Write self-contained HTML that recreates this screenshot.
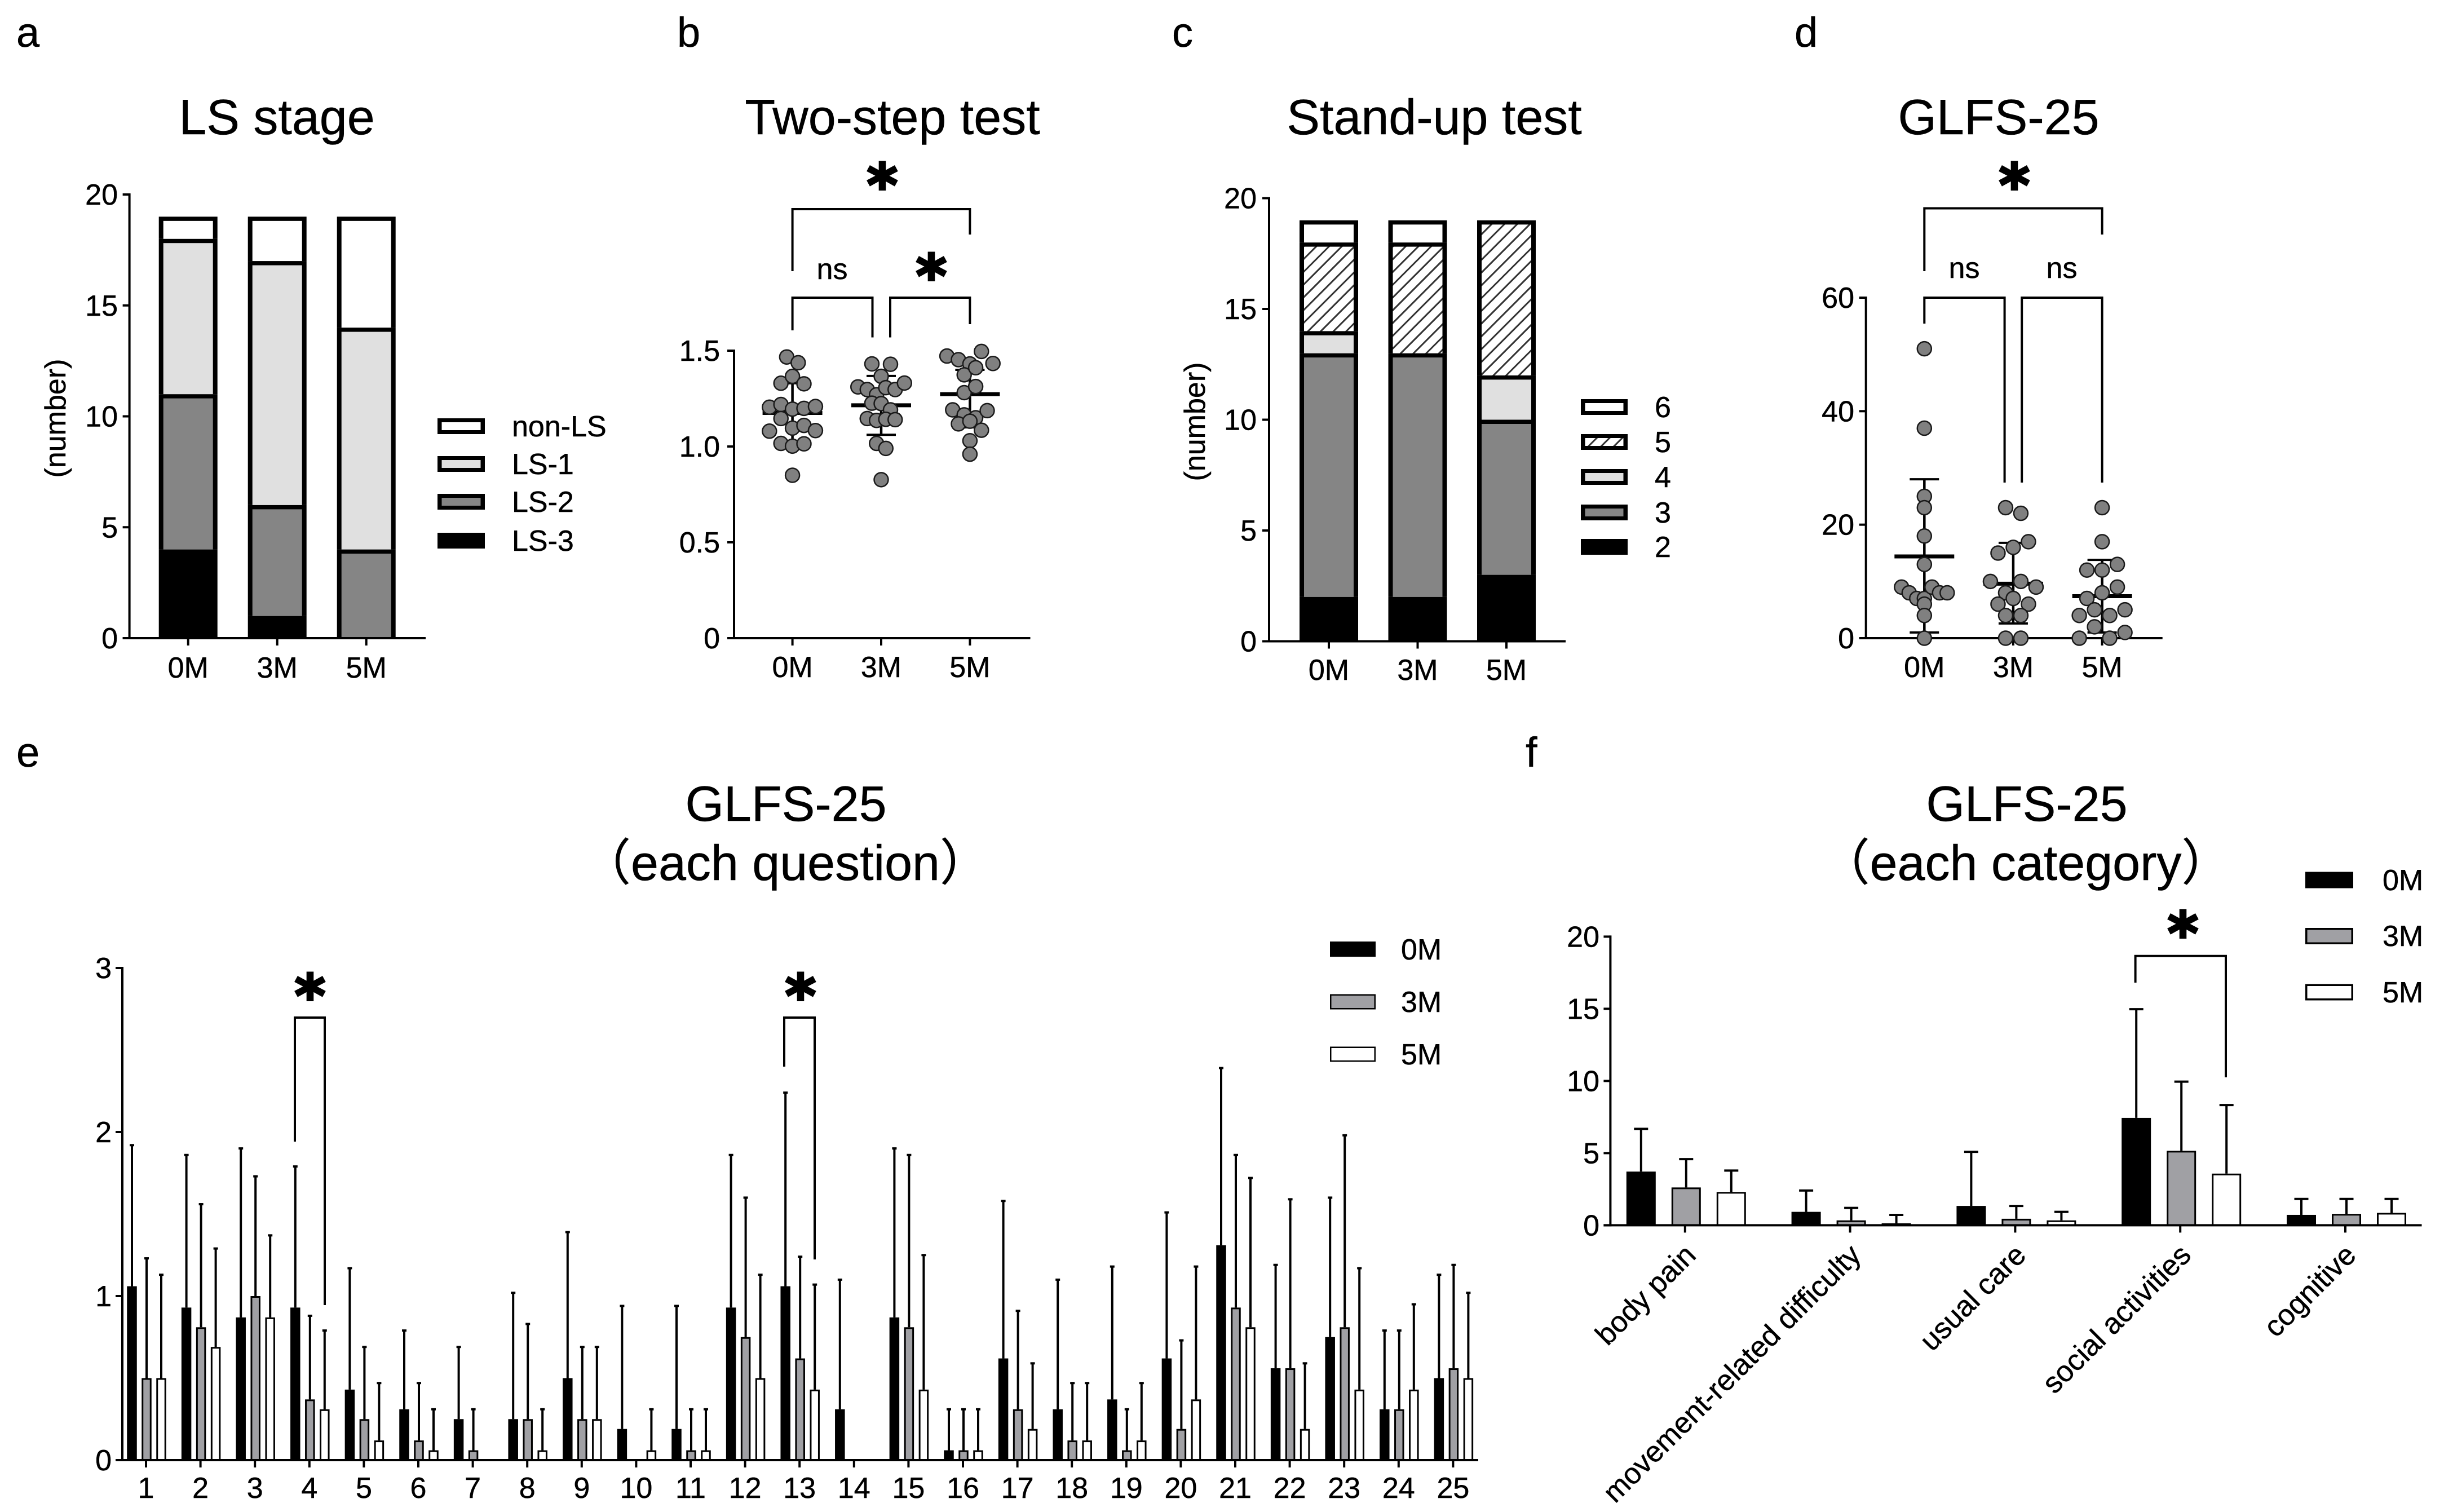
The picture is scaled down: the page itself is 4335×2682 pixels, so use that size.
<!DOCTYPE html>
<html lang="en">
<head>
<meta charset="utf-8">
<title>Locomotive syndrome outcome charts</title>
<style>
html,body{margin:0;padding:0;background:#fff}
svg{display:block}
text{font-family:"Liberation Sans","Noto Sans CJK JP",sans-serif;fill:#000;stroke:#000;stroke-width:.5px}
.star{font-family:"DejaVu Sans",sans-serif;font-weight:700;font-size:104px;text-anchor:middle;stroke-width:4px}
.title{font-size:88px;text-anchor:middle}
.letter{font-size:74px}
.lab{font-size:52px}
.mid{text-anchor:middle}
</style>
</head>
<body>
<svg id="figure" xmlns="http://www.w3.org/2000/svg" width="4335" height="2682" viewBox="0 0 4335 2682">
<defs>
<pattern id="hatch" patternUnits="userSpaceOnUse" width="16" height="16" patternTransform="rotate(-45)">
<rect width="16" height="16" fill="#fff"/>
<line x1="0" y1="8" x2="16" y2="8" stroke="#333" stroke-width="3"/>
</pattern>
</defs>
<rect width="4335" height="2682" fill="#fff"/>

<text class="letter" x="29" y="83">a</text>
<text class="letter" x="1201" y="83">b</text>
<text class="letter" x="2079" y="83">c</text>
<text class="letter" x="3183" y="83">d</text>
<text class="letter" x="29" y="1360">e</text>
<text class="letter" x="2706" y="1360">f</text>

<text class="title" x="491" y="238">LS stage</text>
<text class="title" x="1583" y="238">Two-step test</text>
<text class="title" x="2544" y="238">Stand-up test</text>
<text class="title" x="3545" y="238">GLFS-25</text>
<text class="title" x="1394" y="1456">GLFS-25</text>
<text class="title" x="1393" y="1561">（each question）</text>
<text class="title" x="3595" y="1456">GLFS-25</text>
<text class="title" x="3593" y="1561">（each category）</text>

<text class="lab mid" transform="translate(116 742) rotate(-90)">(number)</text>
<text class="lab mid" transform="translate(2137 748) rotate(-90)">(number)</text>

<text class="lab" x="908" y="774">non-LS</text>
<text class="lab" x="908" y="841">LS-1</text>
<text class="lab" x="908" y="908">LS-2</text>
<text class="lab" x="908" y="977">LS-3</text>

<text class="lab" x="2935" y="740">6</text>
<text class="lab" x="2935" y="802">5</text>
<text class="lab" x="2935" y="864">4</text>
<text class="lab" x="2935" y="927">3</text>
<text class="lab" x="2935" y="988">2</text>

<text class="lab" x="2485" y="1702">0M</text>
<text class="lab" x="2485" y="1795">3M</text>
<text class="lab" x="2485" y="1888">5M</text>

<text class="lab" x="4226" y="1579">0M</text>
<text class="lab" x="4226" y="1678">3M</text>
<text class="lab" x="4226" y="1778">5M</text>

<text class="lab mid" x="1476" y="495">ns</text>
<text class="lab mid" x="3484" y="493">ns</text>
<text class="lab mid" x="3657" y="493">ns</text>

<text class="star" x="1565" y="365">*</text>
<text class="star" x="1652" y="526">*</text>
<text class="star" x="3573" y="365">*</text>
<text class="star" x="550" y="1803">*</text>
<text class="star" x="1420" y="1803">*</text>
<text class="star" x="3872" y="1692">*</text>

<g id="marks"></g>
</svg>

<script>
/* ---------- panel a: LS stage (counts, bottom to top) ---------- */
const timeLabels = ["0M", "3M", "5M"];
const stackTickValues = [0, 5, 10, 15, 20];
const stackTickLabels = ["0", "5", "10", "15", "20"];
const lsStage3 = [4, 1, 0];
const lsStage2 = [7, 5, 4];
const lsStage1 = [7, 11, 10];
const lsStageNon = [1, 2, 5];

/* ---------- panel c: Stand-up test (counts, bottom to top) ---------- */
const standScore2 = [2, 2, 3];
const standScore3 = [11, 11, 7];
const standScore4 = [1, 0, 2];
const standScore5 = [4, 5, 7];
const standScore6 = [1, 1, 0];

/* ---------- panel b: Two-step test ---------- */
const twoStepTickValues = [0, 0.5, 1.0, 1.5];
const twoStepTickLabels = ["0", "0.5", "1.0", "1.5"];
const twoStep0M = [1.467,1.437,1.33,1.366,1.327,1.205,1.219,1.195,1.199,1.209,1.08,1.146,1.096,1.11,1.083,1.016,1.002,1.014,0.85];
const twoStep3M = [1.431,1.366,1.429,1.311,1.297,1.27,1.307,1.297,1.331,1.226,1.224,1.191,1.146,1.136,1.142,1.14,1.016,0.99,0.827];
const twoStep5M = [1.472,1.453,1.431,1.496,1.433,1.374,1.411,1.281,1.313,1.191,1.165,1.15,1.187,1.118,1.132,1.085,1.03,0.96];
const twoStepMean = [1.175, 1.215, 1.273];
const twoStepUpper = [1.33, 1.368, 1.40];
const twoStepLower = [1.02, 1.061, 1.10];

/* ---------- panel d: GLFS-25 total ---------- */
const glfsTickValues = [0, 20, 40, 60];
const glfsTickLabels = ["0", "20", "40", "60"];
const glfs0M = [51,37,25,23,18,13,9,8,7,7,9,8,8,6,4,0];
const glfs3M = [23,22,15,16,17,10,8,10,9,6,7,6,4,4,0,0];
const glfs5M = [23,17,12,12,13,7,8,9,4,5,4,5,0,2,0,1];
const glfsMean = [14.4, 9.6, 7.4];
const glfsUpper = [28, 16.8, 13.8];
const glfsLower = [1, 2.6, 1];

/* ---------- panel e: GLFS-25 each question ---------- */
const questionLabels = ["1","2","3","4","5","6","7","8","9","10","11","12","13","14","15","16","17","18","19","20","21","22","23","24","25"];
const questionTickValues = [0, 1, 2, 3];
const questionTickLabels = ["0", "1", "2", "3"];
const question0M = [1.06,0.93,0.87,0.93,0.43,0.31,0.25,0.25,0.5,0.19,0.19,0.93,1.06,0.31,0.87,0.06,0.62,0.31,0.37,0.62,1.31,0.56,0.75,0.31,0.5];
const question3M = [0.5,0.81,1.0,0.37,0.25,0.12,0.06,0.25,0.25,0,0.06,0.75,0.62,0,0.81,0.06,0.31,0.12,0.06,0.19,0.93,0.56,0.81,0.31,0.56];
const question5M = [0.5,0.69,0.87,0.31,0.12,0.06,0,0.06,0.25,0.06,0.06,0.5,0.43,0,0.43,0.06,0.19,0.12,0.12,0.37,0.81,0.19,0.43,0.43,0.5];
const question0MErrTop = [1.92,1.86,1.90,1.79,1.17,0.79,0.69,1.02,1.39,0.94,0.94,1.86,2.24,1.10,1.90,0.31,1.58,1.10,1.18,1.51,2.39,1.19,1.60,0.79,1.13];
const question3MErrTop = [1.23,1.56,1.73,0.88,0.69,0.47,0.31,0.83,0.69,0,0.31,1.60,1.24,0,1.86,0.31,0.91,0.47,0.31,0.73,1.86,1.59,1.98,0.79,1.19];
const question5MErrTop = [1.13,1.29,1.37,0.79,0.47,0.31,0,0.31,0.69,0.31,0.31,1.13,1.07,0,1.25,0.31,0.59,0.47,0.47,1.18,1.72,0.59,1.17,0.95,1.02];

/* ---------- panel f: GLFS-25 each category ---------- */
const categoryLabels = ["body pain", "movement-related difficulty", "usual care", "social activities", "cognitive"];
const categoryTickValues = [0, 5, 10, 15, 20];
const categoryTickLabels = ["0", "5", "10", "15", "20"];
const category0M = [3.72, 0.93, 1.34, 7.44, 0.72];
const category3M = [2.62, 0.34, 0.45, 5.16, 0.79];
const category5M = [2.31, 0.14, 0.34, 3.58, 0.86];
const category0MErrTop = [6.68, 2.41, 5.09, 14.97, 1.82];
const category3MErrTop = [4.58, 1.2, 1.34, 9.95, 1.82];
const category5MErrTop = [3.79, 0.72, 0.93, 8.33, 1.82];

/* ---------- drawing ---------- */
const NS = "http://www.w3.org/2000/svg";
const root = document.getElementById("marks");

function mk(tag, attrs, name, text) {
  const el = document.createElementNS(NS, tag);
  for (const k in attrs) el.setAttribute(k, attrs[k]);
  
  
  if (text !== undefined) el.textContent = text;
  root.appendChild(el);
  return el;
}
function line(x1, y1, x2, y2, w, name) {
  return mk("line", {x1: x1, y1: y1, x2: x2, y2: y2, stroke: "#000", "stroke-width": w}, name);
}
function box(x, y, w, h, fill, name) {
  return mk("rect", {x: x, y: y, width: w, height: h, fill: fill}, name);
}
function linearY(y0, yTop, maxV) {
  return function (v) { return y0 - v * (y0 - yTop) / maxV; };
}
function bandX(first, step) {
  return function (i) { return first + step * i; };
}

function drawAxes(p, o) {
  line(o.x0, o.yTop - 2, o.x0, o.y0 + 2, 4, p + "-y-axis");
  line(o.x0 - 12, o.y0, o.xEnd, o.y0, 4, p + "-x-axis");
  o.yVals.forEach(function (v, i) {
    const y = o.y(v);
    line(o.x0 - 12, y, o.x0, y, 4, p + "-y-tick");
    mk("text", {x: o.labelRight, y: y + 18, "font-size": 52, "text-anchor": "end"}, p + "-y-tick-label", o.yLabels[i]);
  });
  o.xLabels.forEach(function (lab, i) {
    const x = o.x(i);
    line(x, o.y0, x, o.y0 + 13, 4, p + "-x-tick");
    if (o.rotated) {
      mk("text", {transform: "translate(" + (x + 22) + " " + (o.y0 + 56) + ") rotate(-45)", "font-size": 52, "text-anchor": "end"}, p + "-x-tick-label", lab);
    } else {
      mk("text", {x: x, y: o.xBase, "font-size": 52, "text-anchor": "middle"}, p + "-x-tick-label", lab);
    }
  });
}

function drawStack(p, o, series, fills) {
  const bw = 104, sx = 8, sy = 7.5;
  timeLabels.forEach(function (_, i) {
    const cx = o.x(i);
    let acc = 0;
    series.forEach(function (vals, s) {
      const v = vals[i];
      if (v <= 0) return;
      const yb = o.y(acc), yt = o.y(acc + v);
      acc += v;
      box(cx - bw / 2, yt, bw, yb - yt, "#000", p + "-bar-frame");
      if (fills[s] !== "#000") {
        box(cx - bw / 2 + sx, yt + sy, bw - 2 * sx, yb - yt - sy, fills[s], p + "-bar-segment");
      }
    });
  });
}

/* swarm: values in array order run left to right; a new row starts when a value leaves the current row's mean by more than tol */
function swarmRows(values, tol) {
  const rows = [];
  let cur = [];
  values.forEach(function (v) {
    if (cur.length) {
      const m = cur.reduce(function (a, b) { return a + b; }, 0) / cur.length;
      if (Math.abs(v - m) > tol) { rows.push(cur); cur = []; }
    }
    cur.push(v);
  });
  if (cur.length) rows.push(cur);
  return rows;
}
function drawSwarm(p, o, i, values, tol, spacing, mean, up, lo) {
  const cx = o.x(i);
  line(cx, o.y(lo), cx, o.y(up), 4.5, p + "-error-bar");
  line(cx - 26, o.y(up), cx + 26, o.y(up), 4, p + "-error-cap-upper");
  line(cx - 26, o.y(lo), cx + 26, o.y(lo), 4, p + "-error-cap-lower");
  line(cx - 53, o.y(mean), cx + 53, o.y(mean), 7, p + "-mean-line");
  swarmRows(values, tol).forEach(function (row) {
    row.forEach(function (v, k) {
      const dx = (k - (row.length - 1) / 2) * spacing;
      mk("circle", {cx: cx + dx, cy: o.y(v), r: 12.5, fill: "#808080", stroke: "#1a1a1a", "stroke-width": 2.5}, p + "-point");
    });
  });
}

function drawGroupedBars(p, o, series, errs, offsets, bw, capW, vw) {
  const fills = ["#000", "#a0a0a4", "#fff"];
  o.xLabels.forEach(function (_, i) {
    series.forEach(function (vals, s) {
      const v = vals[i], e = errs[s][i];
      if (v <= 0) return;
      const cx = o.x(i) + offsets[s];
      line(cx, o.y(v), cx, o.y(e), vw, p + "-error-bar");
      line(cx - capW / 2, o.y(e), cx + capW / 2, o.y(e), 4, p + "-error-cap");
      mk("rect", {x: cx - bw / 2 + 1.5, y: o.y(v) + 1.5, width: bw - 3, height: o.y0 - o.y(v) - 1.5,
        fill: fills[s], stroke: "#000", "stroke-width": 3}, p + "-bar");
    });
  });
}

function bracket(points, name) {
  const d = points.map(function (pt, i) { return (i ? "L" : "M") + pt[0] + " " + pt[1]; }).join(" ");
  mk("path", {d: d, fill: "none", stroke: "#000", "stroke-width": 4}, name);
}
function swatchFramed(x, y, w, h, fill, bx, by, name) {
  box(x, y - h / 2, w, h, "#000", name + "-frame");
  if (fill !== "#000") box(x + bx, y - h / 2 + by, w - 2 * bx, h - 2 * by, fill, name);
}

/* panel a */
const panelA = {x0: 229.6, xEnd: 755, yTop: 345, y0: 1132, labelRight: 209, xBase: 1202,
  yVals: stackTickValues, yLabels: stackTickLabels, xLabels: timeLabels,
  y: linearY(1132, 345, 20), x: bandX(333.7, 158)};
drawStack("ls-stage", panelA, [lsStage3, lsStage2, lsStage1, lsStageNon], ["#000", "#858585", "#e0e0e0", "#fff"]);
drawAxes("ls-stage", panelA);
swatchFramed(776, 756, 84, 28, "#fff", 7.5, 7, "legend-swatch-non-ls");
swatchFramed(776, 823, 84, 28, "#e0e0e0", 7.5, 7, "legend-swatch-ls-1");
swatchFramed(776, 890, 84, 28, "#858585", 7.5, 7, "legend-swatch-ls-2");
swatchFramed(776, 959, 84, 28, "#000", 7.5, 7, "legend-swatch-ls-3");

/* panel b */
const panelB = {x0: 1302, xEnd: 1827.5, yTop: 622, y0: 1132, labelRight: 1277, xBase: 1201,
  yVals: twoStepTickValues, yLabels: twoStepTickLabels, xLabels: timeLabels,
  y: linearY(1132, 622, 1.5), x: bandX(1405.6, 157.4)};
drawAxes("two-step", panelB);
drawSwarm("two-step-0m", panelB, 0, twoStep0M, 0.07, 20.4, twoStepMean[0], twoStepUpper[0], twoStepLower[0]);
drawSwarm("two-step-3m", panelB, 1, twoStep3M, 0.066, 16.5, twoStepMean[1], twoStepUpper[1], twoStepLower[1]);
drawSwarm("two-step-5m", panelB, 2, twoStep5M, 0.045, 20.4, twoStepMean[2], twoStepUpper[2], twoStepLower[2]);
bracket([[1405.6,481],[1405.6,371],[1720.4,371],[1720.4,416]], "bracket-b-0m-5m");
bracket([[1405.6,586],[1405.6,528],[1547.5,528],[1547.5,598.5]], "bracket-b-0m-3m");
bracket([[1579,598.5],[1579,528],[1720.4,528],[1720.4,575]], "bracket-b-3m-5m");

/* panel c */
const panelC = {x0: 2251, xEnd: 2777, yTop: 351.5, y0: 1137.5, labelRight: 2229, xBase: 1206,
  yVals: stackTickValues, yLabels: stackTickLabels, xLabels: timeLabels,
  y: linearY(1137.5, 351.5, 20), x: bandX(2357, 157.5)};
drawStack("stand-up", panelC, [standScore2, standScore3, standScore4, standScore5, standScore6], ["#000", "#858585", "#e0e0e0", "url(#hatch)", "#fff"]);
drawAxes("stand-up", panelC);
swatchFramed(2804, 722, 83, 28, "#fff", 7.5, 7, "legend-swatch-6");
swatchFramed(2804, 784, 83, 28, "url(#hatch)", 7.5, 7, "legend-swatch-5");
swatchFramed(2804, 846, 83, 28, "#e0e0e0", 7.5, 7, "legend-swatch-4");
swatchFramed(2804, 909, 83, 28, "#858585", 7.5, 7, "legend-swatch-3");
swatchFramed(2804, 970, 83, 28, "#000", 7.5, 7, "legend-swatch-2");

/* panel d */
const panelD = {x0: 3309.7, xEnd: 3835.7, yTop: 528, y0: 1132, labelRight: 3289, xBase: 1201,
  yVals: glfsTickValues, yLabels: glfsTickLabels, xLabels: timeLabels,
  y: linearY(1132, 528, 60), x: bandX(3413.3, 157.65)};
drawAxes("glfs-total", panelD);
drawSwarm("glfs-0m", panelD, 0, glfs0M, 1.9, 13.5, glfsMean[0], glfsUpper[0], glfsLower[0]);
drawSwarm("glfs-3m", panelD, 1, glfs3M, 2.2, 27, glfsMean[1], glfsUpper[1], glfsLower[1]);
drawSwarm("glfs-5m", panelD, 2, glfs5M, 2.2, 27, glfsMean[2], glfsUpper[2], glfsLower[2]);
bracket([[3413.3,481],[3413.3,369.5],[3728.6,369.5],[3728.6,416]], "bracket-d-0m-5m");
bracket([[3413.3,574],[3413.3,528],[3555.6,528],[3555.6,856]], "bracket-d-0m-3m");
bracket([[3586.2,856],[3586.2,528],[3728.6,528],[3728.6,856]], "bracket-d-3m-5m");

/* panel e */
const panelE = {x0: 217, xEnd: 2622, yTop: 1717, y0: 2590, labelRight: 198, xBase: 2657,
  yVals: questionTickValues, yLabels: questionTickLabels, xLabels: questionLabels,
  y: linearY(2590, 1717, 3), x: bandX(259, 96.6)};
drawGroupedBars("question", panelE, [question0M, question3M, question5M],
  [question0MErrTop, question3MErrTop, question5MErrTop], [-25, 1, 27], 17.5, 8, 4);
drawAxes("question", panelE);
bracket([[523,2025],[523,1805],[576,1805],[576,2315]], "bracket-e-q4");
bracket([[1391,1892],[1391,1805],[1445,1805],[1445,2234]], "bracket-e-q13");
[["0m", "#000", 1683.6], ["3m", "#a0a0a4", 1777], ["5m", "#fff", 1870]].forEach(function (r) {
  swatchFramed(2359, r[2], 81, 27, r[1], 2.5, 2.5, "legend-swatch-e-" + r[0]);
});

/* panel f */
const panelF = {x0: 2856.4, xEnd: 4295.5, yTop: 1661.4, y0: 2173.4, labelRight: 2837, rotated: true,
  yVals: categoryTickValues, yLabels: categoryTickLabels, xLabels: categoryLabels,
  y: linearY(2173.4, 1661.4, 20), x: bandX(2988.8, 292.8)};
drawGroupedBars("category", panelF, [category0M, category3M, category5M],
  [category0MErrTop, category3MErrTop, category5MErrTop], [-78, 2, 82], 52, 25, 4);
drawAxes("category", panelF);
bracket([[3787.6,1743],[3787.6,1695.7],[3948,1695.7],[3948,1911]], "bracket-f-social");
[["0m", "#000", 1561], ["3m", "#a0a0a4", 1660.5], ["5m", "#fff", 1760]].forEach(function (r) {
  swatchFramed(4089, r[2], 85, 29, r[1], 3.5, 3.5, "legend-swatch-f-" + r[0]);
});
</script>
</body>
</html>
